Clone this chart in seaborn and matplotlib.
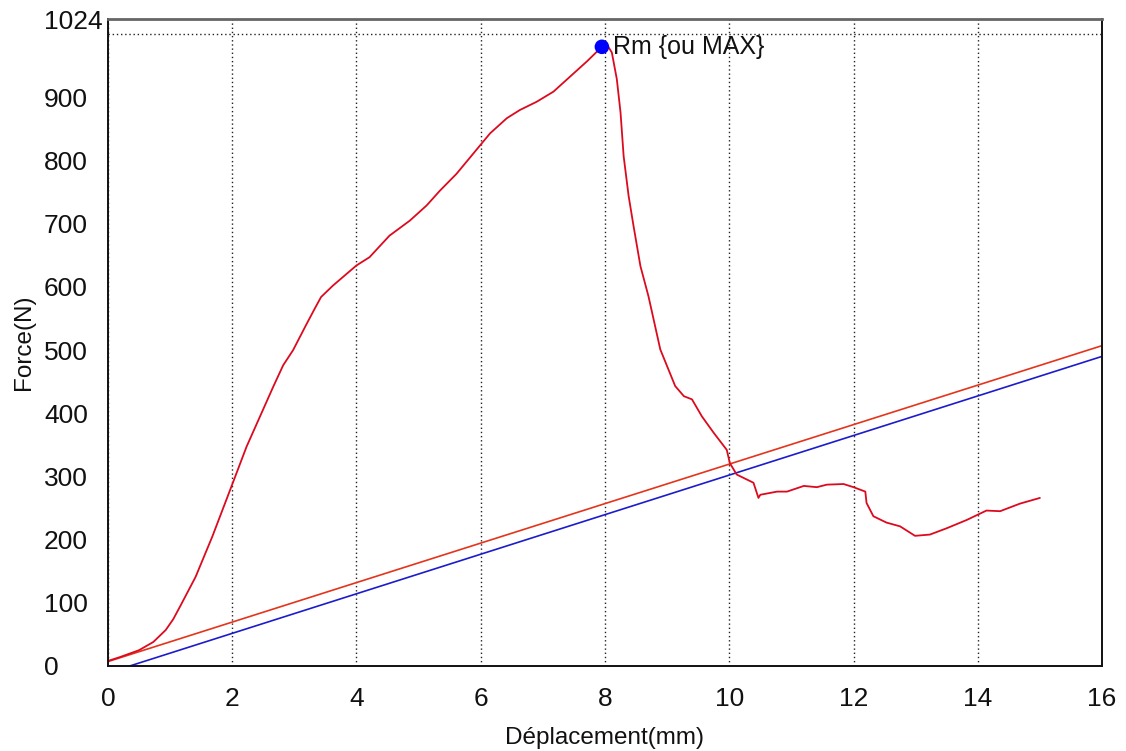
import matplotlib
matplotlib.use("Agg")
import matplotlib.pyplot as plt
import seaborn as sns
import pandas as pd

# Force-displacement curve (mm, N)
curve_x = [0.0, 0.19, 0.5, 0.73, 0.93, 1.05, 1.17, 1.41, 1.68, 2.01, 2.23, 2.47, 2.66, 2.82, 2.98,
           3.19, 3.33, 3.43, 3.62, 4.0, 4.21, 4.53, 4.86, 5.13, 5.34, 5.61, 5.88,
           6.15, 6.42, 6.63, 6.90, 7.17, 7.44, 7.71, 7.95, 8.04,
           8.11, 8.19, 8.25, 8.30, 8.38, 8.46, 8.57, 8.70, 8.89, 9.13, 9.27, 9.40,
           9.56, 9.75, 9.96, 10.01, 10.12, 10.39, 10.47, 10.50, 10.77, 10.93, 11.20,
           11.41, 11.57, 11.84, 12.0, 12.19, 12.21, 12.32, 12.53, 12.75, 12.99,
           13.23, 13.50, 13.82, 14.14, 14.36, 14.68, 15.0]
curve_y = [8, 14, 25, 38, 57, 74, 96, 141, 205, 290, 347, 400, 442, 476, 500,
           540, 566, 584, 602, 634, 647, 681, 705, 729, 752, 779, 811,
           843, 867, 880, 893, 909, 933, 957, 980, 982,
           971, 929, 876, 807, 744, 696, 633, 585, 501, 443, 427, 422,
           395, 369, 342, 321, 303, 290, 266, 271, 276, 276, 285,
           283, 287, 288, 283, 276, 258, 237, 227, 221, 206,
           208, 218, 231, 246, 245, 257, 266]

# Straight reference lines
red_line_x = [0.0, 16.0]
red_line_y = [7, 507]
blue_line_x = [0.35, 16.0]
blue_line_y = [0, 490]

# Maximum point
max_x = [7.95]
max_y = [980]
max_label = "Rm {ou MAX}"

x_ticks = [0, 2, 4, 6, 8, 10, 12, 14, 16]
y_ticks = [0, 100, 200, 300, 400, 500, 600, 700, 800, 900, 1024]
y_ticklabels = ["0", "100", "200", "300", "400", "500", "600", "700", "800", "900", "1024"]
y_grid = [100, 200, 300, 400, 500, 600, 700, 800, 900, 1000]

sns.set_theme(style="white")
plt.rcParams['font.family'] = ['Liberation Sans', 'DejaVu Sans']

fig = plt.figure(figsize=(11.26, 7.51), dpi=100)
ax = fig.add_axes([0.0959, 0.1132, 0.9787 - 0.0959, 0.9747 - 0.1132])

df_curve = pd.DataFrame({"x": curve_x, "y": curve_y})
df_red = pd.DataFrame({"x": red_line_x, "y": red_line_y})
df_blue = pd.DataFrame({"x": blue_line_x, "y": blue_line_y})
df_max = pd.DataFrame({"x": max_x, "y": max_y})

sns.lineplot(data=df_red, x="x", y="y", ax=ax, color="#e4341c", lw=1.2,
             sort=False, estimator=None)
sns.lineplot(data=df_blue, x="x", y="y", ax=ax, color="#1c1ccc", lw=1.2,
             sort=False, estimator=None)
sns.lineplot(data=df_curve, x="x", y="y", ax=ax, color="#dc0a1e", lw=1.3,
             sort=False, estimator=None)
sns.scatterplot(data=df_max, x="x", y="y", ax=ax, color="#0000ff", s=110,
                edgecolor="none", zorder=5)
ax.annotate(max_label, (max_x[0], max_y[0]), xytext=(8, 0), textcoords="offset points",
            ha="left", va="center", fontsize=18, color="#111111")

ax.set_xlim(0, 16)
ax.set_ylim(0, 1024)
ax.set_xticks(x_ticks)
ax.set_yticks(y_ticks)
ax.set_yticklabels(y_ticklabels)
ax.set_yticks(y_grid, minor=True)

ax.grid(False)
ax.xaxis.grid(True, which="major", color="#222222", linestyle=(0, (1, 2)), lw=1.0)
ax.yaxis.grid(True, which="minor", color="#222222", linestyle=(0, (1, 2)), lw=1.0)
ax.set_axisbelow(True)

ax.tick_params(axis="both", which="both", length=0, labelsize=19, colors="#111111")
ax.tick_params(axis="x", pad=15)
ax.tick_params(axis="y", pad=46)
for lbl in ax.get_yticklabels():
    lbl.set_horizontalalignment("left")

ax.set_xlabel("Déplacement(mm)", fontsize=17.5, color="#111111")
ax.set_ylabel("Force(N)", fontsize=17.5, color="#111111")
ax.yaxis.set_label_coords(-0.073, 0.5)
ax.xaxis.set_label_coords(0.5, -0.094)

for side in ["left", "bottom", "right"]:
    ax.spines[side].set_color("#111111")
    ax.spines[side].set_linewidth(1.4)
    ax.spines[side].set_visible(True)
ax.spines["top"].set_color("#666666")
ax.spines["top"].set_linewidth(2.0)
ax.spines["top"].set_visible(True)

fig.savefig("out.png", dpi=100)
